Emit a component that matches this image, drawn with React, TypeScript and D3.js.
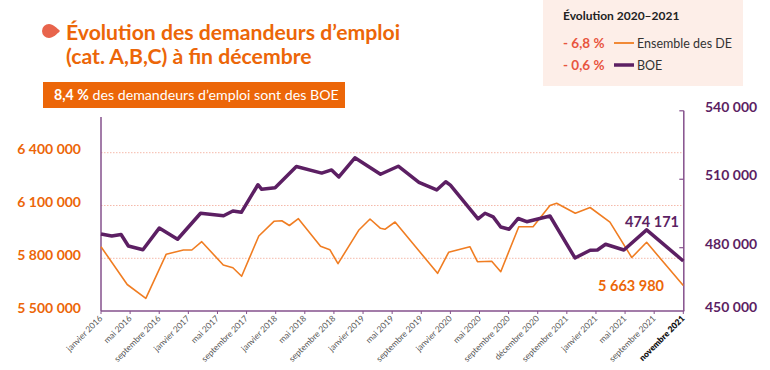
import * as d3 from "d3";
import React from "react";

// x positions are in tick units (0 = janvier 2016 ... 20 = novembre 2021)
const tickLabels = [
  "janvier 2016", "mai 2016", "septembre 2016", "janvier 2017", "mai 2017",
  "septembre 2017", "janvier 2018", "mai 2018", "septembre 2018", "janvier 2019",
  "mai 2019", "septembre 2019", "janvier 2020", "mai 2020", "septembre 2020",
  "décembre 2020", "septembre 2021", "janvier 2021", "mai 2021", "septembre 2021",
  "novembre 2021",
];

const boeT = [
  0, 0.37, 0.69, 0.94, 1.44, 2.0, 2.63, 3.42, 4.21, 4.53, 4.82, 5.39, 5.52, 5.98,
  6.71, 7.58, 7.92, 8.17, 8.72, 9.6, 10.21, 10.92, 11.53, 11.84, 12.0, 12.95,
  13.19, 13.47, 13.73, 14.02, 14.33, 14.62, 15.42, 16.28, 16.8, 17.05, 17.33,
  17.96, 18.74, 20,
];
const boeValues = [
  486000, 485100, 485800, 480750, 479100, 488600, 483700, 495100, 494000, 496100,
  495500, 507600, 505600, 506300, 515600, 512700, 514100, 511000, 519400, 512200,
  515700, 508600, 505300, 508900, 507400, 492600, 495100, 493500, 489100, 488100,
  492800, 491400, 493900, 475500, 478900, 479000, 481500, 479000, 487800, 474171,
];

const deT = [
  0, 0.9, 1.54, 2.24, 2.83, 3.12, 3.46, 4.2, 4.53, 4.83, 5.42, 5.94, 6.21, 6.47,
  6.78, 7.54, 7.86, 8.14, 8.85, 9.24, 9.6, 9.75, 10.1, 11.56, 11.94, 12.67, 12.93,
  13.42, 13.73, 14.35, 14.84, 15.42, 15.65, 16.29, 16.8, 17.48, 18.23, 18.74, 20,
];
const deValues = [
  5865900, 5651100, 5572700, 5823300, 5847200, 5847200, 5894300, 5761900, 5746600,
  5697700, 5926700, 6010200, 6013600, 5986400, 6025000, 5868200, 5848900, 5769300,
  5959100, 6023300, 5970500, 5964800, 6006200, 5714800, 5834100, 5865900, 5780700,
  5783000, 5723900, 5979500, 5979500, 6100000, 6112500, 6055700, 6088600, 6005100,
  5804500, 5890900, 5645000,
];

const leftTicks = [6400000, 6100000, 5800000, 5500000];
const rightTicks = [540000, 510000, 480000, 450000];

const ORANGE = "#ec6608";
const LINE_ORANGE = "#f07d22";
const PURPLE = "#5c1f63";
const AXIS = "#85508c";
const FONT = "Lato, 'Open Sans', sans-serif";

const fmt = (v: number) => d3.format(",")(v).replace(/,/g, " ");

export default function App() {
  const left = 101;
  const right = 683.3;
  const bottom = 311;

  const x = d3.scaleLinear().domain([0, 20]).range([left, right]);
  const yL = d3.scaleLinear().domain([5500000, 6400000]).range([311.1, 152.7]);
  const yR = d3.scaleLinear().domain([480000, 540000]).range([247.7, 110.8]);

  const boeLine = d3
    .line<number>()
    .x((_, i) => x(boeT[i]))
    .y((d) => yR(d));
  const deLine = d3
    .line<number>()
    .x((_, i) => x(deT[i]))
    .y((d) => yL(d));

  const lastBoe = boeValues[boeValues.length - 1];

  return (
    <svg
      width={770}
      height={370}
      style={{ position: "absolute", left: 0, top: 0, fontFamily: FONT }}
    >
      <rect width={770} height={370} fill="#fff" />

      {/* title */}
      <path
        d="M49,24 A7,7 0 1,0 49,38 C53,38 57,34 60,31 C57,28 53,24 49,24 Z"
        fill="#e8644c"
      />
      <text x={66} y={40} fill={ORANGE} fontSize={21.2} fontWeight={700}>
        Évolution des demandeurs d’emploi
      </text>
      <text x={66} y={63.5} fill={ORANGE} fontSize={21.2} fontWeight={700}>
        (cat. A,B,C) à fin décembre
      </text>

      {/* banner */}
      <rect x={43} y={82} width={302} height={26} fill={ORANGE} />
      <text x={54} y={100} fill="#fff" fontSize={14.2}>
        <tspan fontWeight={700}>8,4 %</tspan> des demandeurs d’emploi sont des BOE
      </text>

      {/* legend box */}
      <rect x={543} y={0} width={200} height={86} fill="#fdeee8" />
      <text x={563} y={20} fill="#222" fontSize={12} fontWeight={700}>
        Évolution 2020–2021
      </text>
      <text x={563} y={47.5} fill="#e8553e" fontSize={13.5} fontWeight={700}>
        - 6,8 %
      </text>
      <line x1={614} x2={634} y1={43} y2={43} stroke={LINE_ORANGE} strokeWidth={1.8} />
      <text x={637} y={47.5} fill="#333" fontSize={12.5}>
        Ensemble des DE
      </text>
      <text x={563} y={69.5} fill="#e8553e" fontSize={13.5} fontWeight={700}>
        - 0,6 %
      </text>
      <line x1={614} x2={634} y1={65} y2={65} stroke={PURPLE} strokeWidth={3.5} />
      <text x={637} y={69.5} fill="#333" fontSize={12.5}>
        BOE
      </text>

      {/* grid */}
      {leftTicks.slice(0, 3).map((v) => (
        <line
          key={v}
          x1={left}
          x2={right}
          y1={yL(v)}
          y2={yL(v)}
          stroke="#f5b9aa"
          strokeWidth={1}
          strokeDasharray="1.5 1.5"
        />
      ))}

      {/* left axis */}
      <line x1={left} x2={left} y1={117} y2={bottom} stroke={AXIS} strokeWidth={1.5} />
      {leftTicks.map((v) => (
        <text
          key={v}
          x={81}
          y={Math.min(yL(v), bottom) - 2}
          dominantBaseline="middle"
          textAnchor="end"
          fill={ORANGE}
          fontSize={14}
          fontWeight={700}
        >
          {fmt(v)}
        </text>
      ))}

      {/* right axis */}
      <line x1={right + 0.5} x2={right + 0.5} y1={110.8} y2={bottom} stroke={AXIS} strokeWidth={1.5} />
      {rightTicks.map((v) => (
        <g key={v}>
          {yR(v) < bottom && (
            <line x1={right - 4} x2={right + 0.5} y1={yR(v)} y2={yR(v)} stroke={AXIS} strokeWidth={1.2} />
          )}
          <text
            x={705}
            y={Math.min(yR(v), bottom) - 2.5}
            dominantBaseline="middle"
            fill={PURPLE}
            fontSize={14}
            fontWeight={700}
          >
            {fmt(v)}
          </text>
        </g>
      ))}

      {/* bottom axis */}
      <line x1={left} x2={right + 1} y1={bottom} y2={bottom} stroke={AXIS} strokeWidth={1.5} />
      {tickLabels.map((label, i) => (
        <g key={i} transform={`translate(${x(i)},${bottom})`}>
          <line y1={0} y2={3} stroke={AXIS} strokeWidth={1} />
          <text
            transform="translate(2,8) rotate(-45)"
            textAnchor="end"
            fontSize={8.5}
            fill={i === 20 ? "#111" : "#555"}
            fontWeight={i === 20 ? 800 : 400}
          >
            {label}
          </text>
        </g>
      ))}

      {/* series */}
      <path d={deLine(deValues) || ""} fill="none" stroke={LINE_ORANGE} strokeWidth={1.6} strokeLinejoin="round" />
      <path d={boeLine(boeValues) || ""} fill="none" stroke={PURPLE} strokeWidth={3.5} strokeLinejoin="round" />

      {/* end labels */}
      <text x={679} y={226.5} textAnchor="end" fill={PURPLE} fontSize={14.5} fontWeight={700}>
        {fmt(lastBoe)}
      </text>
      <text x={664} y={291} textAnchor="end" fill={ORANGE} fontSize={14.5} fontWeight={700}>
        5 663 980
      </text>
    </svg>
  );
}
